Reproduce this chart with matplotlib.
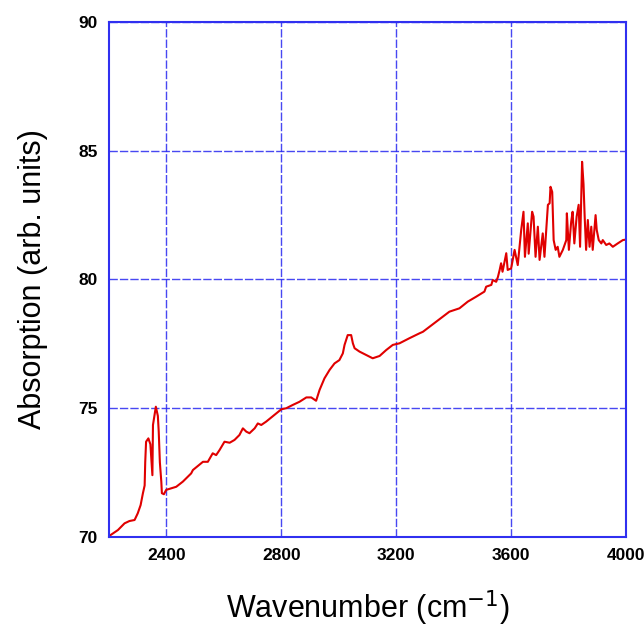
import matplotlib
matplotlib.use("Agg")
import matplotlib.pyplot as plt

# spectrum
wavenumber = [2202, 2231, 2254, 2271, 2289, 2300, 2310, 2318, 2324, 2326, 2329, 2337,
              2344, 2351, 2353, 2358, 2363, 2370, 2373, 2377, 2382, 2384, 2391, 2399,
              2416, 2434, 2457, 2486, 2492, 2527, 2544, 2561, 2573, 2585, 2602, 2620,
              2637, 2654, 2666, 2678, 2689, 2707, 2718, 2730, 2747, 2782, 2800, 2817,
              2840, 2863, 2887, 2904, 2921, 2933, 2950, 2968, 2985, 3002, 3014, 3020,
              3031, 3043, 3049, 3055, 3072, 3095, 3118, 3142, 3165, 3188, 3211, 3246,
              3281, 3293, 3339, 3385, 3420, 3449, 3478, 3507, 3513, 3531, 3536, 3548,
              3554, 3560, 3565, 3570, 3583, 3588, 3600, 3612, 3623, 3635, 3643, 3648,
              3658, 3661, 3673, 3678, 3685, 3693, 3699, 3710, 3716, 3728, 3734, 3737,
              3743, 3748, 3755, 3762, 3768, 3780, 3792, 3794, 3801, 3809, 3814, 3820,
              3828, 3835, 3840, 3847, 3852, 3856, 3861, 3867, 3873, 3879, 3884, 3894,
              3898, 3905, 3914, 3919, 3931, 3942, 3954, 3971, 3989, 4000]
absorption = [70.05, 70.27, 70.53, 70.62, 70.66, 70.92, 71.24, 71.7, 72.0, 72.9, 73.7, 73.83,
              73.6, 72.4, 74.35, 74.7, 75.06, 74.7, 74.1, 72.9, 72.15, 71.7, 71.66, 71.83,
              71.89, 71.95, 72.15, 72.47, 72.6, 72.92, 72.92, 73.25, 73.18, 73.38, 73.7, 73.66,
              73.77, 73.96, 74.22, 74.09, 74.03, 74.22, 74.41, 74.35, 74.48, 74.8, 74.96, 75.0,
              75.13, 75.25, 75.42, 75.42, 75.29, 75.71, 76.16, 76.49, 76.74, 76.87, 77.13, 77.46,
              77.84, 77.84, 77.52, 77.33, 77.2, 77.07, 76.94, 77.03, 77.26, 77.46, 77.52, 77.72,
              77.91, 77.97, 78.36, 78.75, 78.88, 79.14, 79.33, 79.53, 79.72, 79.79, 79.98, 79.91,
              80.1, 80.37, 80.63, 80.3, 81.02, 80.37, 80.43, 81.15, 80.56, 81.92, 82.63, 80.88,
              82.18, 81.0, 82.63, 82.44, 80.88, 82.05, 80.76, 81.79, 80.88, 82.9, 82.96, 83.6,
              83.4, 81.53, 81.15, 81.27, 80.88, 81.15, 81.53, 82.57, 81.15, 82.24, 82.63, 81.4,
              82.44, 82.9, 81.27, 84.57, 83.7, 82.44, 81.15, 82.31, 81.27, 82.05, 81.15, 82.5,
              81.92, 81.53, 81.4, 81.53, 81.34, 81.4, 81.27, 81.4, 81.53, 81.55]

xticks = [2400, 2800, 3200, 3600, 4000]
yticks = [70, 75, 80, 85, 90]

plt.rcParams['font.family'] = ['Liberation Sans', 'DejaVu Sans']

fig = plt.figure(figsize=(6.44, 6.37), dpi=100)
ax = fig.add_axes([0.1693, 0.157, 0.8028, 0.8085])

ax.plot(wavenumber, absorption, color='#e00000', lw=1.5)

ax.set_xlim(2200, 4000)
ax.set_ylim(70, 90)
ax.set_xticks(xticks)
ax.set_yticks(yticks)
ax.grid(True, color='#2828f0', ls=(0, (6, 1.5)), lw=1.0, alpha=0.85)
for s in ax.spines.values():
    s.set_color('#3030f0')
    s.set_linewidth(1.5)
ax.tick_params(length=0, pad=8, labelsize=12.5)
for lab in ax.get_xticklabels() + ax.get_yticklabels():
    lab.set_fontweight('bold')

ax.set_xlabel('Wavenumber (cm$^{-1}$)', fontsize=22, labelpad=18)
ax.set_ylabel('Absorption (arb. units)', fontsize=22, labelpad=22)

fig.savefig('out.png', dpi=100)
